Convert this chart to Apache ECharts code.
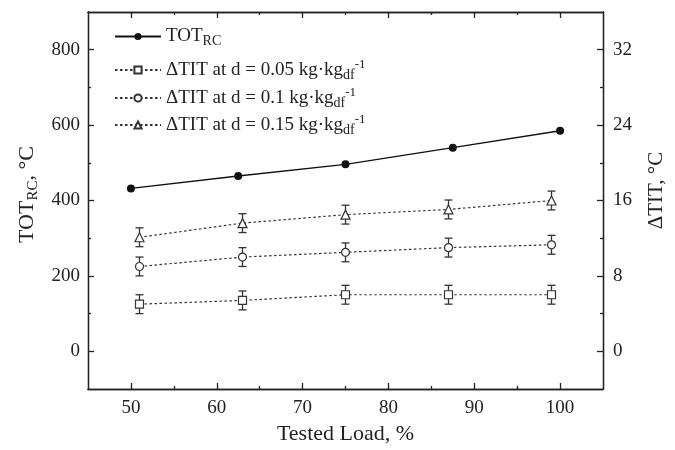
<!DOCTYPE html>
<html>
<head>
<meta charset="utf-8">
<script src="https://cdn.jsdelivr.net/npm/echarts@6/dist/echarts.min.js"></script>
<style>
html,body{margin:0;padding:0;background:#fff;}
#chart{width:675px;height:450px;}
</style>
</head>
<body>
<div id="chart"></div>
<script>
// ---- data ----
const totLoads = [50, 62.5, 75, 87.5, 100];
const totValues = [432, 465, 496, 540, 585];
const titLoads = [51, 63, 75, 87, 99];
const tit005 = [5.0, 5.4, 6.0, 6.0, 6.0];
const tit010 = [9.0, 10.0, 10.5, 11.0, 11.3];
const tit015 = [12.1, 13.6, 14.5, 15.05, 16.0];
const titErr005 = [1, 1, 1, 1, 1];
const titErr010 = [1, 1, 1, 1, 1];
const titErr015 = [1, 1, 1, 1, 1];
const xMajorTicks = [50, 60, 70, 80, 90, 100];
const xMinorTicks = [55, 65, 75, 85, 95];
const leftMajorTicks = [0, 200, 400, 600, 800];
const leftMinorTicks = [100, 300, 500, 700];
const rightMajorTicks = [0, 8, 16, 24, 32];
const rightMinorTicks = [4, 12, 20, 28];
const seriesNames = ['TOT', 'd005', 'd010', 'd015'];

const FONT = 'Liberation Serif';
const INK = '#222';
const chart = echarts.init(document.getElementById('chart'));

function pairs(xs, ys) { return xs.map((x, i) => [x, ys[i]]); }
function triples(xs, ys, es) { return xs.map((x, i) => [x, ys[i], es[i]]); }

function tickAxis(base, ticks, len, showLabel, labelOpts) {
  return Object.assign({
    type: 'value',
    axisLine: { show: true, onZero: false, lineStyle: { color: INK, width: 1.3 } },
    axisTick: { show: true, inside: true, length: len, customValues: ticks, lineStyle: { color: INK, width: 1.3 } },
    axisLabel: showLabel ? Object.assign({ customValues: ticks, fontFamily: FONT, fontSize: 19, color: INK }, labelOpts || {}) : { show: false },
    splitLine: { show: false }
  }, base);
}

const xBase = { min: 45, max: 105 };
const yLeftBase = { min: -100, max: 900 };
const yRightBase = { min: -4, max: 36 };

function errorBarSeries(data) {
  return {
    type: 'custom',
    xAxisIndex: 0,
    yAxisIndex: 2,
    z: 1,
    silent: true,
    data: data,
    renderItem: function (params, api) {
      const x = api.value(0), y = api.value(1), e = api.value(2);
      const top = api.coord([x, y + e]);
      const bot = api.coord([x, y - e]);
      const hw = 4;
      const style = { stroke: '#333', lineWidth: 1.3, fill: null };
      return {
        type: 'group',
        children: [
          { type: 'line', shape: { x1: top[0], y1: top[1], x2: bot[0], y2: bot[1] }, style: style },
          { type: 'line', shape: { x1: top[0] - hw, y1: top[1], x2: top[0] + hw, y2: top[1] }, style: style },
          { type: 'line', shape: { x1: bot[0] - hw, y1: bot[1], x2: bot[0] + hw, y2: bot[1] }, style: style }
        ]
      };
    }
  };
}

function titSeries(name, symbol, data) {
  return {
    name: name,
    type: 'line',
    xAxisIndex: 0,
    yAxisIndex: 2,
    z: 3,
    data: data,
    symbol: symbol,
    symbolSize: symbol === 'triangle' ? 9 : 8,
    showAllSymbol: true,
    itemStyle: { color: '#fff', borderColor: '#333', borderWidth: 1.2 },
    lineStyle: { color: '#333', width: 1.2, type: [2.5, 2.5] }
  };
}

const richText = {
  a: { fontFamily: FONT, fontSize: 19, color: INK, lineHeight: 24 },
  sub: { fontFamily: FONT, fontSize: 14, color: INK, lineHeight: 14, verticalAlign: 'bottom' },
  sup: { fontFamily: FONT, fontSize: 13, color: INK, lineHeight: 13, verticalAlign: 'top' }
};
const legendLabels = {
  TOT: '{a|TOT}{sub|RC}',
  d005: '{a|ΔTIT at d = 0.05 kg·kg}{sub|df}{sup|-1}',
  d010: '{a|ΔTIT at d = 0.1 kg·kg}{sub|df}{sup|-1}',
  d015: '{a|ΔTIT at d = 0.15 kg·kg}{sub|df}{sup|-1}'
};
const legendTops = [27, 58, 86, 113];

const option = {
  animation: false,
  backgroundColor: '#fff',
  grid: { left: 88, right: 68, top: 12, bottom: 61, containLabel: false },
  legend: seriesNames.map((n, i) => ({
    data: [n],
    left: 114,
    top: legendTops[i],
    itemWidth: 46,
    itemHeight: 9,
    padding: 0,
    formatter: function (name) { return legendLabels[name]; },
    textStyle: { rich: richText, fontFamily: FONT, fontSize: 19, color: INK }
  })),
  xAxis: [
    tickAxis(Object.assign({ position: 'bottom', name: 'Tested Load, %', nameLocation: 'middle', nameGap: 33,
      nameTextStyle: { fontFamily: FONT, fontSize: 22, color: INK } }, xBase), xMajorTicks, 6, true, { margin: 10 }),
    tickAxis(Object.assign({ position: 'bottom' }, xBase), xMinorTicks, 3, false),
    tickAxis(Object.assign({ position: 'top' }, xBase), xMajorTicks, 6, false),
    tickAxis(Object.assign({ position: 'top' }, xBase), xMinorTicks, 3, false)
  ],
  yAxis: [
    tickAxis(Object.assign({ position: 'left', name: '{a|TOT}{sub|RC}{a|, °C}', nameLocation: 'middle', nameGap: 44, nameRotate: 90,
      nameTextStyle: { fontFamily: FONT, fontSize: 22, color: INK, padding: [0, 0, 0, 12], rich: {
        a: { fontFamily: FONT, fontSize: 22, color: INK, lineHeight: 26 },
        sub: { fontFamily: FONT, fontSize: 15, color: INK, lineHeight: 15, verticalAlign: 'bottom' }
      } } }, yLeftBase), leftMajorTicks, 6, true, { margin: 8 }),
    tickAxis(Object.assign({ position: 'left' }, yLeftBase), leftMinorTicks, 3, false),
    tickAxis(Object.assign({ position: 'right', name: 'ΔTIT, °C', nameLocation: 'middle', nameGap: 43, nameRotate: 90,
      nameTextStyle: { fontFamily: FONT, fontSize: 21, color: INK, padding: [0, 0, 0, 20] } }, yRightBase), rightMajorTicks, 6, true, { margin: 10 }),
    tickAxis(Object.assign({ position: 'right' }, yRightBase), rightMinorTicks, 3, false)
  ],
  series: [
    {
      name: 'TOT',
      type: 'line',
      xAxisIndex: 0,
      yAxisIndex: 0,
      z: 3,
      data: pairs(totLoads, totValues),
      symbol: 'circle',
      symbolSize: 8,
      itemStyle: { color: '#111' },
      lineStyle: { color: '#111', width: 1.3 }
    },
    errorBarSeries(triples(titLoads, tit005, titErr005)),
    errorBarSeries(triples(titLoads, tit010, titErr010)),
    errorBarSeries(triples(titLoads, tit015, titErr015)),
    titSeries('d005', 'rect', pairs(titLoads, tit005)),
    titSeries('d010', 'circle', pairs(titLoads, tit010)),
    titSeries('d015', 'triangle', pairs(titLoads, tit015))
  ]
};
chart.setOption(option);
</script>
</body>
</html>
